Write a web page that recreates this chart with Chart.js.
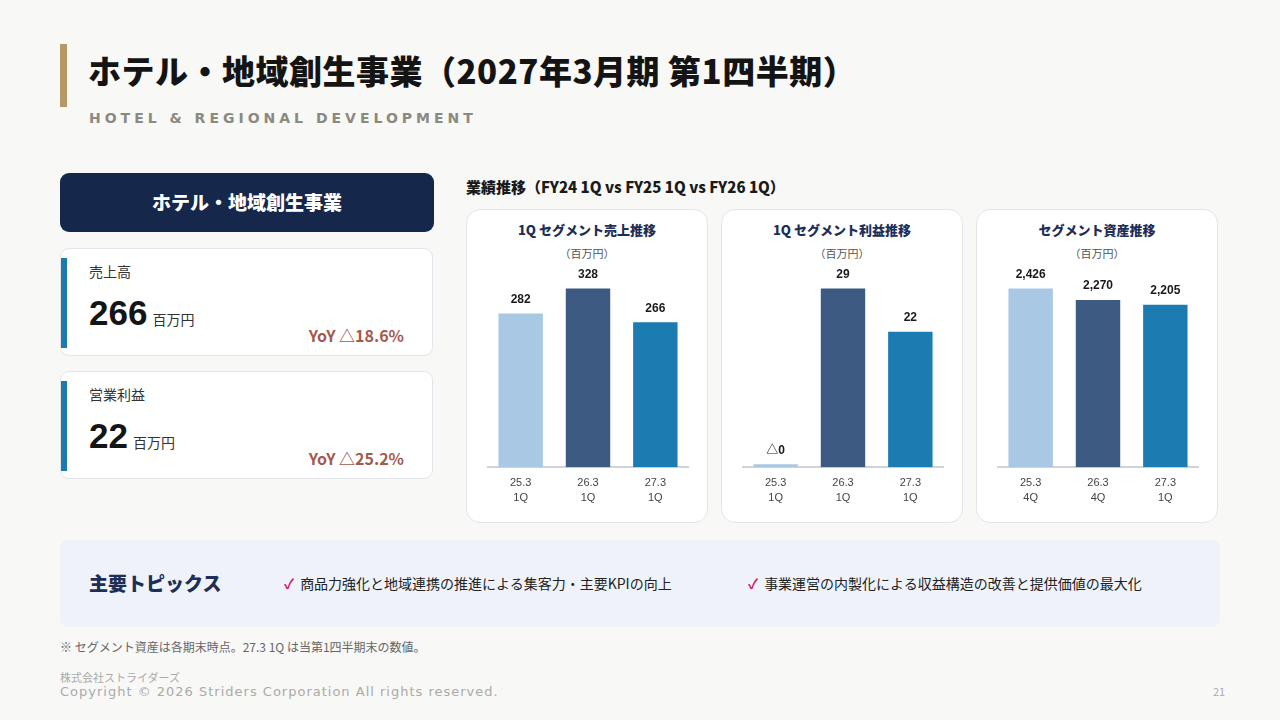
<!DOCTYPE html>
<html lang="ja">
<head>
<meta charset="UTF-8">
<title>ホテル・地域創生事業</title>
<style>
  body { margin:0; width:1280px; height:720px; background:#f8f8f6; font-family:"Noto Sans CJK JP","Noto Sans",sans-serif; position:relative; overflow:hidden; color:#222; }
  .abs { position:absolute; }
  .title-bar { left:60px; top:44px; width:7px; height:63px; background:#b39a64; }
  h1 { position:absolute; left:88px; top:46px; margin:0; font-size:33px; font-weight:900; color:#141414; letter-spacing:0.5px; }
  .sub { left:89px; top:110px; font-size:14px; font-weight:700; letter-spacing:4px; color:#8a8a80; font-family:"DejaVu Sans",sans-serif; }
  .seg { left:60px; top:173px; width:374px; height:59px; background:#15274a; border-radius:9px; color:#fff; font-size:19px; font-weight:900; text-align:center; line-height:57px; }
  .kpi { left:60px; width:373px; height:108px; background:#fff; border:1px solid #e3e5ea; border-radius:9px; box-sizing:border-box; }
  .kpi .accent { position:absolute; left:0; top:9px; width:6px; height:90px; background:#1e79b0; }
  .kpi .lbl { position:absolute; left:28px; top:12px; font-size:14px; color:#333; }
  .kpi .num { position:absolute; left:28px; top:44px; font-size:35px; font-weight:700; color:#151515; font-family:"Liberation Sans",sans-serif; }
  .kpi .unit { font-size:14px; font-weight:400; color:#333; margin-left:5px; font-family:"Noto Sans CJK JP",sans-serif; }
  .kpi .yoy { position:absolute; right:28px; top:74px; font-size:16px; font-weight:700; color:#a35a4e; }
  .ctitle { left:466px; top:176px; font-size:15px; font-weight:900; color:#1a1a1a; }
  .card { top:209px; width:242px; height:314px; background:#fff; border:1px solid #e3e5ea; border-radius:14px; box-sizing:border-box; }
  .card .t { position:absolute; left:0; right:0; top:10px; text-align:center; font-size:13px; font-weight:900; color:#1d2e57; }
  .card .u { position:absolute; left:0; right:0; top:35px; text-align:center; font-size:11px; color:#555; }
  .card canvas { position:absolute; left:20px; top:49px; }
  .topics { left:60px; top:540px; width:1160px; height:87px; background:#eff3f9; border-radius:8px; }
  .topics .h { position:absolute; left:29px; top:29px; font-size:19px; font-weight:900; color:#1d2e57; }
  .topics .i { position:absolute; top:33px; font-size:14px; color:#222; }
  .topics .i b { color:#c8217a; font-weight:700; margin-right:6px; }
  .note { left:60px; top:638px; font-size:12px; color:#666; }
  .co { left:60px; top:669px; font-size:11px; color:#aaa; }
  .copy { left:60px; top:684px; font-size:13px; color:#aaa; letter-spacing:1px; font-family:"DejaVu Sans",sans-serif; }
  .page { left:1213px; top:683px; font-size:11px; color:#aaa; }
</style>
</head>
<body>
<div class="abs title-bar"></div>
<h1>ホテル・地域創生事業（2027年3月期 第1四半期）</h1>
<div class="abs sub">HOTEL &amp; REGIONAL DEVELOPMENT</div>

<div class="abs seg">ホテル・地域創生事業</div>
<div class="abs kpi" style="top:248px"><div class="accent"></div><div class="lbl">売上高</div><div class="num">266<span class="unit">百万円</span></div><div class="yoy">YoY △18.6%</div></div>
<div class="abs kpi" style="top:371px"><div class="accent"></div><div class="lbl">営業利益</div><div class="num">22<span class="unit">百万円</span></div><div class="yoy">YoY △25.2%</div></div>

<div class="abs ctitle">業績推移（FY24 1Q vs FY25 1Q vs FY26 1Q）</div>
<div class="abs card" style="left:466px"><div class="t">1Q セグメント売上推移</div><div class="u">（百万円）</div><canvas id="c1" width="202" height="246"></canvas></div>
<div class="abs card" style="left:721px"><div class="t">1Q セグメント利益推移</div><div class="u">（百万円）</div><canvas id="c2" width="202" height="246"></canvas></div>
<div class="abs card" style="left:976px"><div class="t">セグメント資産推移</div><div class="u">（百万円）</div><canvas id="c3" width="202" height="246"></canvas></div>

<div class="abs topics">
  <div class="h">主要トピックス</div>
  <div class="i" style="left:224px"><b>✓</b>商品力強化と地域連携の推進による集客力・主要KPIの向上</div>
  <div class="i" style="left:688px"><b>✓</b>事業運営の内製化による収益構造の改善と提供価値の最大化</div>
</div>
<div class="abs note">※ セグメント資産は各期末時点。27.3 1Q は当第1四半期末の数値。</div>
<div class="abs co">株式会社ストライダーズ</div>
<div class="abs copy">Copyright © 2026 Striders Corporation All rights reserved.</div>
<div class="abs page">21</div>

<script src="https://cdn.jsdelivr.net/npm/chart.js"></script>
<script>
const barColors = ['#a8c8e4', '#3c5a82', '#1c7bb0'];

const salesLabels = [['25.3', '1Q'], ['26.3', '1Q'], ['27.3', '1Q']];
const salesValues = [282, 328, 266];
const salesText = ['282', '328', '266'];

const profitLabels = [['25.3', '1Q'], ['26.3', '1Q'], ['27.3', '1Q']];
const profitValues = [0.4, 29, 22];
const profitText = ['△0', '29', '22'];

const assetLabels = [['25.3', '4Q'], ['26.3', '4Q'], ['27.3', '1Q']];
const assetValues = [2426, 2270, 2205];
const assetText = ['2,426', '2,270', '2,205'];

const valueLabels = {
    id: 'valueLabels',
    afterDatasetsDraw(chart, args, opts) {
        const ctx = chart.ctx;
        ctx.save();
        ctx.font = 'bold 12px "Liberation Sans", "Noto Sans CJK JP", sans-serif';
        ctx.fillStyle = '#1a1a1a';
        ctx.textAlign = 'center';
        ctx.textBaseline = 'bottom';
        chart.getDatasetMeta(0).data.forEach((bar, i) => {
            ctx.fillText(opts.texts[i], bar.x, bar.y - 8);
        });
        ctx.restore();
    }
};

function makeChart(id, labels, values, texts) {
    const max = Math.max(...values);
    new Chart(document.getElementById(id), {
        type: 'bar',
        data: {
            labels: labels,
            datasets: [{ data: values, backgroundColor: barColors, barPercentage: 0.97, categoryPercentage: 0.68, minBarLength: 3 }]
        },
        plugins: [valueLabels],
        options: {
            responsive: false,
            animation: false,
            layout: { padding: { top: 8, left: 0, right: 0, bottom: 0 } },
            plugins: { legend: { display: false }, tooltip: { enabled: false }, valueLabels: { texts: texts } },
            scales: {
                y: { display: false, min: 0, max: max * 1.12 },
                x: {
                    grid: { display: false },
                    border: { color: '#cfd3da', width: 2 },
                    ticks: { color: '#444', font: { size: 11, family: '"Liberation Sans", sans-serif', lineHeight: 1.35 }, padding: 0 }
                }
            }
        }
    });
}

makeChart('c1', salesLabels, salesValues, salesText);
makeChart('c2', profitLabels, profitValues, profitText);
makeChart('c3', assetLabels, assetValues, assetText);
</script>
</body>
</html>
